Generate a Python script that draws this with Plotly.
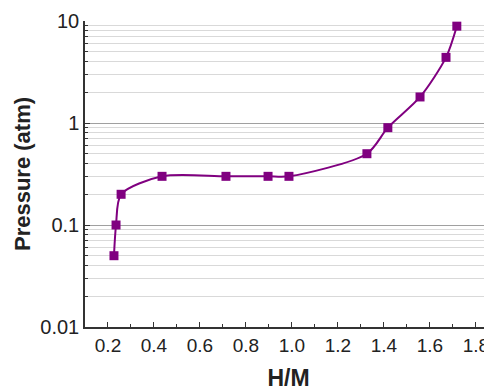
import plotly.graph_objects as go

hm = [0.226, 0.235, 0.257, 0.435, 0.713, 0.896, 0.987, 1.326, 1.417, 1.557, 1.67, 1.717]
pressure = [0.05, 0.1, 0.2, 0.3, 0.3, 0.3, 0.3, 0.5, 0.9, 1.8, 4.4, 8.9]
x_ticks = [0.2, 0.4, 0.6, 0.8, 1.0, 1.2, 1.4, 1.6, 1.8]
x_tick_text = ["0.2", "0.4", "0.6", "0.8", "1.0", "1.2", "1.4", "1.6", "1.8"]
y_ticks = [0.01, 0.1, 1, 10]
y_tick_text = ["0.01", "0.1", "1", "10"]

purple = "#800080"

fig = go.Figure()
fig.add_trace(go.Scatter(
    x=hm, y=pressure, mode="lines+markers",
    line=dict(color=purple, width=2, shape="spline", smoothing=0.8),
    marker=dict(symbol="square", size=9, color=purple),
    showlegend=False,
))

fig.update_layout(
    width=484, height=383,
    margin=dict(l=77, r=0, t=13, b=64),
    paper_bgcolor="white", plot_bgcolor="white",
    font=dict(family="Arial, Liberation Sans, sans-serif", color="#222"),
    xaxis=dict(
        range=[0.1, 1.87], tickvals=x_ticks, ticktext=x_tick_text,
        automargin=False,
        ticks="inside", ticklen=5, tickcolor="#333",
        showline=True, linecolor="#333", linewidth=1.5,
        showgrid=False, zeroline=False,
        tickfont=dict(size=19),
        minor=dict(dtick=0.1, ticks="inside", ticklen=3, tickcolor="#333"),
        title=dict(text="<b>H/M</b>", font=dict(size=23), standoff=29),
    ),
    yaxis=dict(
        type="log", range=[-2, 1], tickvals=y_ticks, ticktext=y_tick_text,
        automargin=False,
        ticks="inside", ticklen=5, tickcolor="#333",
        showline=True, linecolor="#333", linewidth=1.5,
        showgrid=True, gridcolor="#a0a0a0", gridwidth=1.2,
        zeroline=False,
        tickfont=dict(size=20),
        minor=dict(dtick="D1", ticks="inside", ticklen=3, tickcolor="#333",
                   showgrid=True, gridcolor="#d9d9d9", gridwidth=1),
        title=dict(text="<b>Pressure (atm)</b>", font=dict(size=22), standoff=4),
    ),
)

fig.write_html("out.html")
